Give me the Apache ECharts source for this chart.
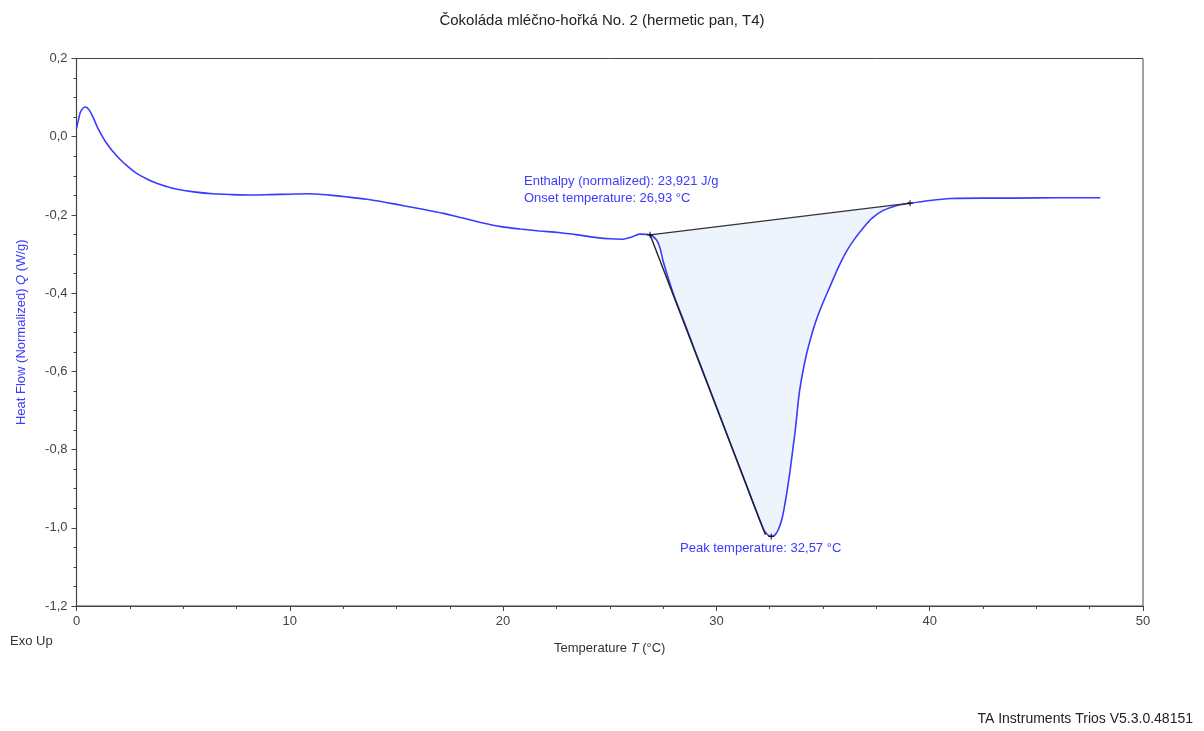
<!DOCTYPE html>
<html>
<head>
<meta charset="utf-8">
<script src="https://cdn.jsdelivr.net/npm/echarts@6/dist/echarts.min.js"></script>
<style>
  html, body { margin: 0; padding: 0; background: #fff; }
  #chart { width: 1204px; height: 731px; }
</style>
</head>
<body>
<div id="chart"></div>
<script>
// ---- data ----
const temperature = [0, 0.1, 0.2, 0.42, 0.6, 0.8, 1.0, 1.4, 1.9, 2.4, 2.8, 3.3, 3.7, 4.2, 4.6, 5.5, 6.4, 7.3, 8.2, 9.1,
    10.0, 10.8, 11.4, 12.0, 12.7, 13.6, 14.5, 15.4, 16.3, 17.2, 18.1, 19.0, 19.9, 20.8, 21.7, 22.6, 23.5, 24.4, 25.0, 25.6,
    26.0, 26.4, 26.9, 27.2, 27.36, 27.5, 28.0, 28.5, 29.0, 29.6, 30.3, 31.0, 31.4, 31.8, 32.05, 32.25, 32.45, 32.6, 32.75, 32.9,
    33.05, 33.15, 33.3, 33.45, 33.6, 33.7, 33.9, 34.2, 34.5, 34.7, 35.0, 35.35, 35.7, 36.1, 36.5, 36.9, 37.3, 37.8, 38.4, 39.1,
    40.0, 41.0, 42.5, 44, 46, 48];
const heatFlow = [0.021, 0.045, 0.065, 0.076, 0.068, 0.047, 0.022, -0.016, -0.050, -0.076, -0.093, -0.108, -0.118, -0.127, -0.133, -0.141, -0.146, -0.148, -0.149, -0.148,
    -0.147, -0.146, -0.147, -0.150, -0.154, -0.160, -0.168, -0.177, -0.186, -0.196, -0.208, -0.220, -0.230, -0.236, -0.241, -0.245, -0.251, -0.258, -0.261, -0.262,
    -0.257, -0.249, -0.251, -0.265, -0.285, -0.318, -0.405, -0.475, -0.548, -0.633, -0.733, -0.833, -0.890, -0.948, -0.983, -1.008, -1.020, -1.022, -1.018, -1.005,
    -0.982, -0.958, -0.911, -0.856, -0.792, -0.750, -0.650, -0.562, -0.500, -0.466, -0.424, -0.380, -0.336, -0.293, -0.260, -0.232, -0.208, -0.189, -0.177, -0.170,
    -0.163, -0.158, -0.157, -0.157, -0.156, -0.156];

// integration limits, onset tangent and peak
const onsetPoint = [26.89, -0.251];
const endPoint = [39.08, -0.170];
const tangentEnd = [32.3, -1.018];
const peakPoint = [32.57, -1.022];

const xTicks = [0, 10, 20, 30, 40, 50];
const yTicks = [0.2, 0.0, -0.2, -0.4, -0.6, -0.8, -1.0, -1.2];

const titleText = "Čokoláda mléčno-hořká No. 2 (hermetic pan, T4)";
const enthalpyText = "Enthalpy (normalized): 23,921 J/g";
const onsetText = "Onset temperature: 26,93 °C";
const peakText = "Peak temperature: 32,57 °C";

const blue = '#3b3bff';
const axisGray = '#444';
const font = 'Liberation Sans, Arial, sans-serif';

const curve = temperature.map((t, i) => [t, heatFlow[i]]);
const plus = 'path://M0,5 L10,5 M5,0 L5,10';

const chart = echarts.init(document.getElementById('chart'));

const comma = (v, d) => v.toFixed(d).replace('.', ',');

const option = {
    animation: false,
    backgroundColor: '#fff',
    textStyle: { fontFamily: font },
    title: {
        text: titleText,
        left: 'center',
        top: 8,
        textStyle: { fontFamily: font, fontSize: 15, fontWeight: 'normal', color: '#222' }
    },
    grid: {
        left: 76.5, right: 61, top: 58.5, bottom: 125,
        show: true, borderColor: axisGray, borderWidth: 1
    },
    xAxis: {
        type: 'value',
        min: xTicks[0],
        max: xTicks[xTicks.length - 1],
        interval: 10,
        name: 'Temperature {i|T} (°C)',
        nameLocation: 'middle',
        nameGap: 36,
        nameTextStyle: {
            fontSize: 13, color: '#333', fontFamily: font,
            rich: { i: { fontStyle: 'italic', fontSize: 13, color: '#333', fontFamily: font } }
        },
        axisLine: { onZero: false, lineStyle: { color: axisGray, width: 1.2 } },
        axisTick: { length: 5, lineStyle: { color: axisGray } },
        minorTick: { show: true, splitNumber: 4, length: 3, lineStyle: { color: axisGray } },
        splitLine: { show: false },
        axisLabel: { margin: 9, fontSize: 13, color: '#444', formatter: v => String(v) }
    },
    yAxis: {
        type: 'value',
        min: yTicks[yTicks.length - 1],
        max: yTicks[0],
        interval: 0.2,
        name: 'Heat Flow (Normalized) {i|Q} (W/g)',
        nameLocation: 'middle',
        nameRotate: 90,
        nameGap: 49,
        nameTextStyle: {
            fontSize: 13, color: blue, fontFamily: font,
            rich: { i: { fontStyle: 'italic', fontSize: 13, color: blue, fontFamily: font } }
        },
        axisLine: { show: true, onZero: false, lineStyle: { color: axisGray, width: 1.2 } },
        axisTick: { show: true, length: 5, lineStyle: { color: axisGray } },
        minorTick: { show: true, splitNumber: 4, length: 3, lineStyle: { color: axisGray } },
        splitLine: { show: false },
        axisLabel: { margin: 9, fontSize: 13, color: '#444', formatter: v => comma(v, 1) }
    },
    graphic: [
        { type: 'text', left: 10, top: 635, style: { text: 'Exo Up', font: '13px ' + font, fill: '#333' } },
        { type: 'text', right: 11, top: 712, style: { text: 'TA Instruments Trios V5.3.0.48151', font: '14px ' + font, fill: '#222' } },
        { type: 'text', left: 524, top: 175, style: { text: enthalpyText, font: '13px ' + font, fill: blue } },
        { type: 'text', left: 524, top: 192, style: { text: onsetText, font: '13px ' + font, fill: blue } },
        { type: 'text', left: 680, top: 542, style: { text: peakText, font: '13px ' + font, fill: blue } }
    ],
    series: [
        {
            // shaded integration area between curve and baseline
            type: 'custom',
            z: 1,
            silent: true,
            data: [0],
            renderItem: (params, api) => {
                const pts = [api.coord(onsetPoint)];
                curve.forEach(p => {
                    if (p[0] > onsetPoint[0] && p[0] < endPoint[0]) pts.push(api.coord(p));
                });
                pts.push(api.coord(endPoint));
                return { type: 'polygon', shape: { points: pts }, style: { fill: '#eef4fc', stroke: null } };
            }
        },
        {
            type: 'line',
            z: 3,
            data: curve,
            smooth: 0.3,
            showSymbol: false,
            lineStyle: { color: blue, width: 1.6 }
        },
        {
            type: 'line',
            z: 4,
            data: [onsetPoint, endPoint],
            showSymbol: false,
            lineStyle: { color: '#333', width: 1.2 }
        },
        {
            type: 'line',
            z: 4,
            data: [onsetPoint, tangentEnd],
            showSymbol: false,
            lineStyle: { color: '#222', width: 1.4 }
        },
        {
            type: 'scatter',
            z: 5,
            data: [onsetPoint, endPoint, peakPoint],
            symbol: plus,
            symbolSize: 6,
            itemStyle: { color: 'none', borderColor: '#000', borderWidth: 1.2 }
        }
    ]
};

chart.setOption(option);
</script>
</body>
</html>
